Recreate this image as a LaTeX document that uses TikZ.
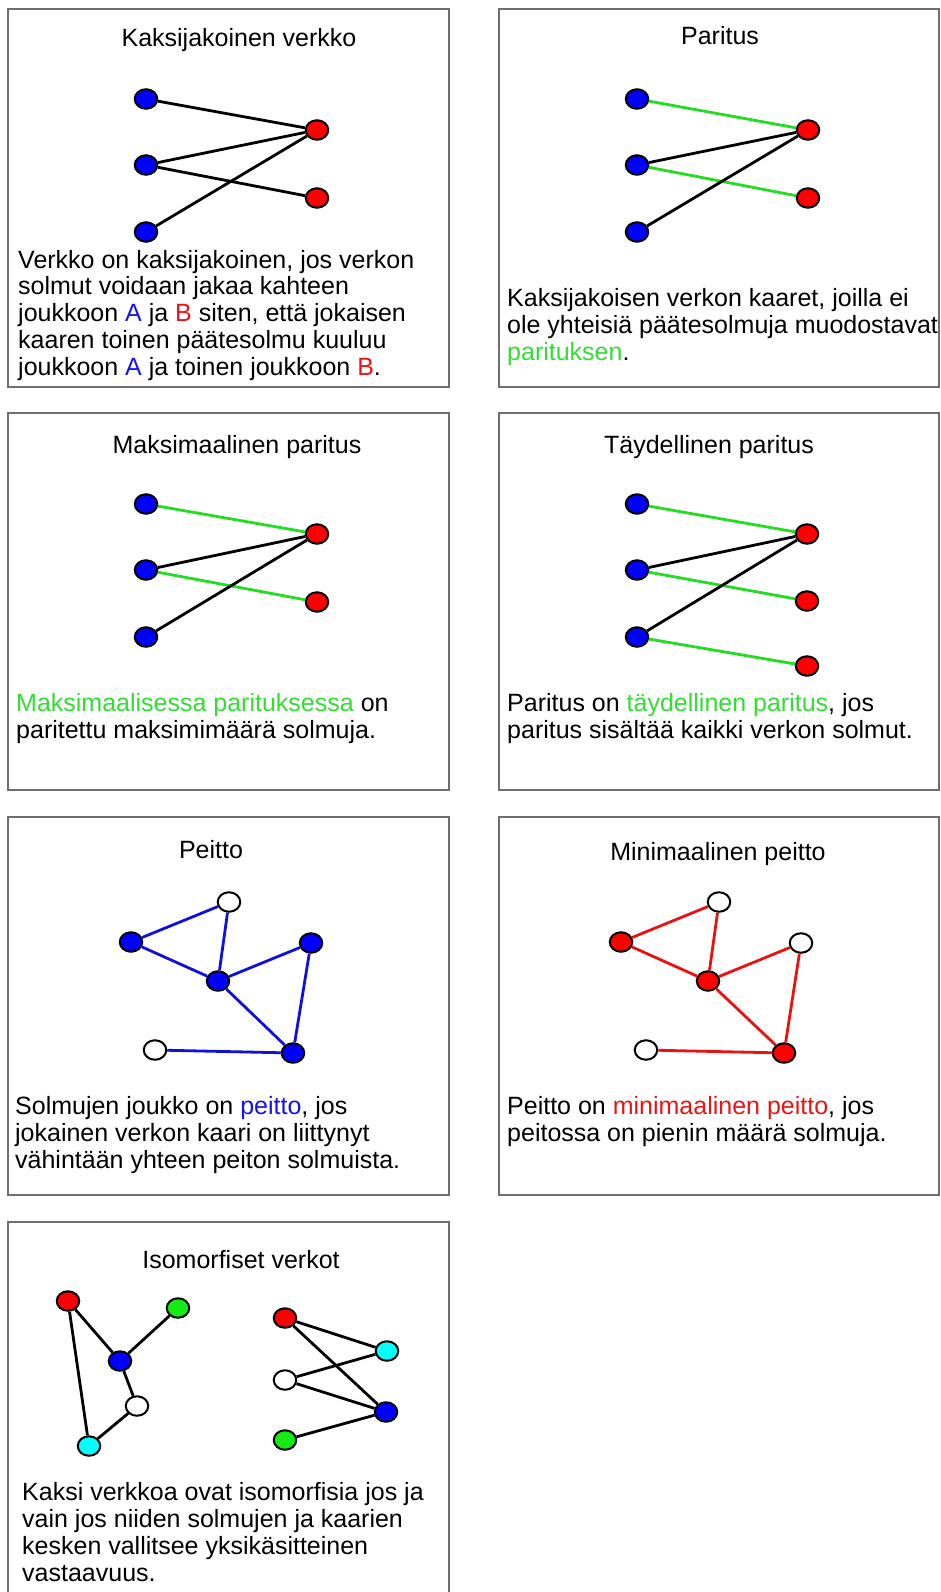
\documentclass[tikz,border=0pt]{standalone}
\usepackage{fontspec}
\setmainfont{Liberation Sans}
\usetikzlibrary{shapes.geometric}
\definecolor{boxgray}{RGB}{110,110,110}
\definecolor{nblue}{RGB}{0,0,255}
\definecolor{nred}{RGB}{255,0,0}
\definecolor{ncyan}{RGB}{0,255,255}
\definecolor{ngreen}{RGB}{20,235,20}
\definecolor{egreen}{RGB}{34,221,34}
\definecolor{eblue}{RGB}{16,16,221}
\definecolor{ered}{RGB}{235,17,17}
\definecolor{tgreen}{RGB}{51,221,51}
\definecolor{tblue}{RGB}{20,20,230}
\definecolor{tred}{RGB}{235,20,20}
\begin{document}
\begin{tikzpicture}[x=1pt,y=-1pt,
  panel/.style={draw=boxgray, line width=1.3pt},
  vx/.style={ellipse, draw=black, line width=2pt, minimum width=22.5pt, minimum height=19.5pt, inner sep=0pt},
  bl/.style={vx, fill=nblue}, rd/.style={vx, fill=nred}, wh/.style={vx, fill=white},
  cy/.style={vx, fill=ncyan}, gr/.style={vx, fill=ngreen},
  ed/.style={line width=2.8pt, draw=black},
  ge/.style={ed, draw=egreen}, be/.style={ed, draw=eblue}, re/.style={ed, draw=ered},
  ttl/.style={anchor=base, font=\fontsize{25}{30}\selectfont, inner sep=0pt},
  txt/.style={anchor=base west, align=left, font=\fontsize{25}{26.7}\selectfont, inner sep=0pt}]
\useasboundingbox[fill=white] (0,0) rectangle (941,1592);

% ---------- Panel 1 ----------
\draw[panel] (8,9) rectangle (449,387);
\node[ttl] (t1) at (239,47) {Kaksijakoinen verkko};
\node[bl] (p1a1) at (146,99) {};
\node[bl] (p1a2) at (146,165) {};
\node[bl] (p1a3) at (146,232) {};
\node[rd] (p1b1) at (317,130) {};
\node[rd] (p1b2) at (317,198) {};
\draw[ed] (p1a1) -- (p1b1);
\draw[ed] (p1a2) -- (p1b1);
\draw[ed] (p1a2) -- (p1b2);
\draw[ed] (p1a3) -- (p1b1);
\node[txt] (x1) at (18,375) {Verkko on kaksijakoinen, jos verkon\\solmut voidaan jakaa kahteen\\joukkoon {\color{tblue}A} ja {\color{tred}B} siten, että jokaisen\\kaaren toinen päätesolmu kuuluu\\joukkoon {\color{tblue}A} ja toinen joukkoon {\color{tred}B}.};

% ---------- Panel 2 ----------
\draw[panel] (499,9) rectangle (939,387);
\node[ttl] (t2) at (720,45) {Paritus};
\node[bl] (p2a1) at (637,99) {};
\node[bl] (p2a2) at (637,165) {};
\node[bl] (p2a3) at (637,232) {};
\node[rd] (p2b1) at (808,130) {};
\node[rd] (p2b2) at (808,198) {};
\draw[ge] (p2a1) -- (p2b1);
\draw[ed] (p2a2) -- (p2b1);
\draw[ge] (p2a2) -- (p2b2);
\draw[ed] (p2a3) -- (p2b1);
\node[txt] (x2) at (507,360) {Kaksijakoisen verkon kaaret, joilla ei\\ole yhteisiä päätesolmuja muodostavat\\{\color{tgreen}parituksen}.};

% ---------- Panel 3 ----------
\draw[panel] (8,413) rectangle (449,790);
\node[ttl] (t3) at (237,453) {Maksimaalinen paritus};
\node[bl] (p3a1) at (146,504) {};
\node[bl] (p3a2) at (146,570) {};
\node[bl] (p3a3) at (146,637) {};
\node[rd] (p3b1) at (317,534) {};
\node[rd] (p3b2) at (317,602) {};
\draw[ge] (p3a1) -- (p3b1);
\draw[ed] (p3a2) -- (p3b1);
\draw[ge] (p3a2) -- (p3b2);
\draw[ed] (p3a3) -- (p3b1);
\node[txt] (x3) at (16,738) {{\color{tgreen}Maksimaalisessa parituksessa} on\\paritettu maksimimäärä solmuja.};

% ---------- Panel 4 ----------
\draw[panel] (499,413) rectangle (939,790);
\node[ttl] (t4) at (709,453) {Täydellinen paritus};
\node[bl] (p4a1) at (637,504) {};
\node[bl] (p4a2) at (637,570) {};
\node[bl] (p4a3) at (637,637) {};
\node[rd] (p4b1) at (807,534) {};
\node[rd] (p4b2) at (807,601) {};
\node[rd] (p4b3) at (807,666) {};
\draw[ge] (p4a1) -- (p4b1);
\draw[ed] (p4a2) -- (p4b1);
\draw[ge] (p4a2) -- (p4b2);
\draw[ed] (p4a3) -- (p4b1);
\draw[ge] (p4a3) -- (p4b3);
\node[txt] (x4) at (507,738) {Paritus on {\color{tgreen}täydellinen paritus}, jos\\paritus sisältää kaikki verkon solmut.};

% ---------- Panel 5 ----------
\draw[panel] (8,817) rectangle (449,1195);
\node[ttl] (t5) at (211,858) {Peitto};
\node[wh] (p5t) at (229,902) {};
\node[bl] (p5l) at (131,942) {};
\node[bl] (p5c) at (218,981) {};
\node[bl] (p5r) at (311,943) {};
\node[wh] (p5bl) at (155,1050) {};
\node[bl] (p5br) at (293,1053) {};
\draw[be] (p5l) -- (p5t);
\draw[be] (p5t) -- (p5c);
\draw[be] (p5l) -- (p5c);
\draw[be] (p5c) -- (p5r);
\draw[be] (p5c) -- (p5br);
\draw[be] (p5r) -- (p5br);
\draw[be] (p5bl) -- (p5br);
\node[txt] (x5) at (15,1168) {Solmujen joukko on {\color{tblue}peitto}, jos\\jokainen verkon kaari on liittynyt\\vähintään yhteen peiton solmuista.};

% ---------- Panel 6 ----------
\draw[panel] (499,817) rectangle (939,1195);
\node[ttl] (t6) at (718,860) {Minimaalinen peitto};
\node[wh] (p6t) at (719,902) {};
\node[rd] (p6l) at (621,942) {};
\node[rd] (p6c) at (708,981) {};
\node[wh] (p6r) at (801,943) {};
\node[wh] (p6bl) at (646,1050) {};
\node[rd] (p6br) at (784,1053) {};
\draw[re] (p6l) -- (p6t);
\draw[re] (p6t) -- (p6c);
\draw[re] (p6l) -- (p6c);
\draw[re] (p6c) -- (p6r);
\draw[re] (p6c) -- (p6br);
\draw[re] (p6r) -- (p6br);
\draw[re] (p6bl) -- (p6br);
\node[txt] (x6) at (507,1141) {Peitto on {\color{tred}minimaalinen peitto}, jos\\peitossa on pienin määrä solmuja.};

% ---------- Panel 7 ----------
\draw[panel] (8,1600) -- (8,1222) -- (449,1222) -- (449,1600);
\node[ttl] (t7) at (241,1268) {Isomorfiset verkot};
\node[rd] (gR) at (68,1301) {};
\node[gr] (gG) at (178,1308) {};
\node[bl] (gB) at (120,1361) {};
\node[wh] (gW) at (137,1406) {};
\node[cy] (gC) at (89,1446) {};
\draw[ed] (gR) -- (gB);
\draw[ed] (gR) -- (gC);
\draw[ed] (gB) -- (gG);
\draw[ed] (gB) -- (gW);
\draw[ed] (gW) -- (gC);
\node[rd] (hR) at (285,1318) {};
\node[cy] (hC) at (387,1351) {};
\node[wh] (hW) at (285,1380) {};
\node[bl] (hB) at (386,1412) {};
\node[gr] (hG) at (285,1440) {};
\draw[ed] (hR) -- (hC);
\draw[ed] (hR) -- (hB);
\draw[ed] (hW) -- (hC);
\draw[ed] (hW) -- (hB);
\draw[ed] (hB) -- (hG);
\node[txt] (x7) at (22,1581) {Kaksi verkkoa ovat isomorfisia jos ja\\vain jos niiden solmujen ja kaarien\\kesken vallitsee yksikäsitteinen\\vastaavuus.};
\end{tikzpicture}
\end{document}
